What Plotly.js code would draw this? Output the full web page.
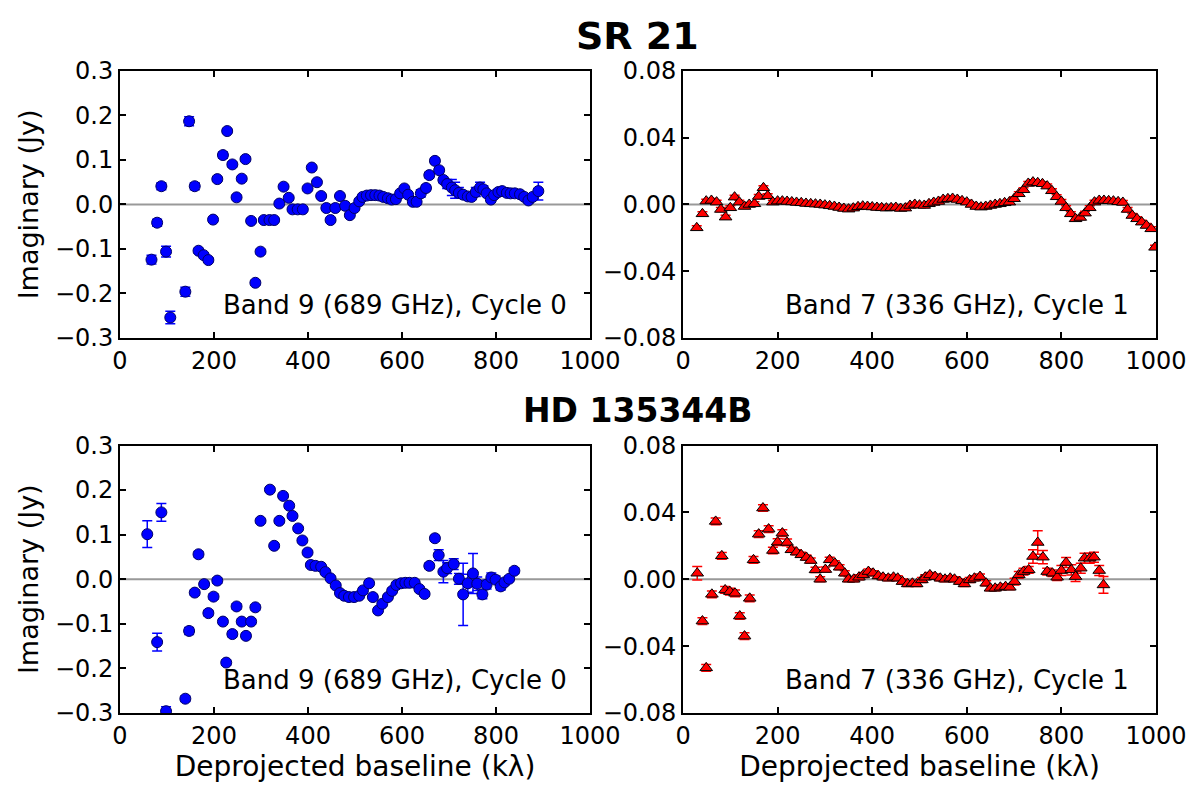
<!DOCTYPE html>
<html>
<head>
<meta charset="utf-8">
<script src="https://cdn.plot.ly/plotly-3.0.1.min.js"></script>
<style>
  html, body { margin: 0; padding: 0; background: #ffffff; }
  #chart { width: 1200px; height: 802px; }
</style>
</head>
<body>
<div id="chart"></div>
<script>
// SR 21, Band 9 (left top)
const sr21B9X = [67, 79, 88, 98, 107, 139, 147, 159, 167, 178, 188, 198, 207, 219, 228, 239, 248, 259, 267, 279,
  288, 299, 306, 318, 328, 339, 348, 359, 367, 378, 389, 399, 408, 419, 428, 439, 448, 458, 468, 479,
  489, 499, 509, 516, 525, 534, 543, 552, 560, 570, 578, 587, 596, 605, 613, 623, 631, 640, 651, 658,
  670, 679, 688, 696, 706, 713, 721, 730, 740, 748, 757, 766, 773, 780, 789, 796, 805, 813, 823, 831,
  840, 851, 860, 869, 878, 890];
const sr21B9Y = [-0.124, -0.041, 0.041, -0.106, -0.254, -0.196, 0.187, 0.041, -0.104, -0.114, -0.125, -0.034, 0.057, 0.111, 0.165, 0.090, 0.016, 0.058, 0.102, -0.037,
  -0.176, -0.106, -0.035, -0.035, -0.035, 0.002, 0.040, 0.015, -0.011, -0.011, -0.011, 0.036, 0.083, 0.050, 0.019, -0.008, -0.035, -0.008, 0.019, -0.003,
  -0.024, -0.008, 0.007, 0.017, 0.020, 0.021, 0.021, 0.020, 0.017, 0.014, 0.011, 0.012, 0.025, 0.036, 0.022, 0.006, 0.006, 0.025, 0.037, 0.066,
  0.098, 0.077, 0.055, 0.046, 0.038, 0.032, 0.026, 0.022, 0.018, 0.017, 0.028, 0.038, 0.034, 0.025, 0.011, 0.021, 0.028, 0.030, 0.026, 0.025,
  0.025, 0.023, 0.017, 0.009, 0.017, 0.030];
const sr21B9Err = [0.010, 0.008, 0.008, 0.012, 0.014, 0.010, 0.010, 0.008, 0.005, 0.005, 0.005, 0.005, 0.005, 0.007, 0.005, 0.005, 0.005, 0.005, 0.005, 0.005,
  0.005, 0.005, 0.005, 0.005, 0.005, 0.004, 0.004, 0.004, 0.004, 0.004, 0.004, 0.004, 0.004, 0.004, 0.004, 0.004, 0.004, 0.004, 0.004, 0.004,
  0.004, 0.004, 0.004, 0.004, 0.004, 0.004, 0.004, 0.004, 0.004, 0.004, 0.004, 0.004, 0.004, 0.004, 0.004, 0.006, 0.006, 0.008, 0.006, 0.006,
  0.006, 0.006, 0.006, 0.010, 0.018, 0.018, 0.012, 0.006, 0.006, 0.006, 0.010, 0.012, 0.008, 0.006, 0.006, 0.006, 0.006, 0.006, 0.006, 0.006,
  0.006, 0.006, 0.006, 0.006, 0.006, 0.020];

// SR 21, Band 7 (right top)
const sr21B7X = [29, 41, 49, 60, 71, 80, 90, 100, 109, 119, 130, 140, 151, 160, 170, 179, 190,
  200, 210, 220, 230, 240, 250, 260, 270, 280, 290, 300, 310, 320, 330, 340, 350, 360, 370, 380, 390,
  400, 410, 420, 430, 440, 450, 460, 470, 480, 490, 500, 510, 520, 530, 540, 550, 560, 570, 580, 590,
  600, 610, 620, 630, 640, 650, 660, 670, 680, 690, 700, 710, 720, 730, 740, 750, 760, 770, 780, 790,
  800, 810, 820, 830, 840, 850, 860, 870, 880, 890, 900, 910, 920, 930, 940, 950, 960, 970, 980, 990, 998];
const sr21B7Y = [-0.014, -0.0056, 0.002, 0.0024, 0.0014, -0.003, -0.0076, -0.002, 0.0044, 0.0014, -0.0012, 0, 0.0004, 0.0048, 0.010, 0.0052, 0.0014,
  0.002, 0.002, 0.0018, 0.0015, 0.0012, 0.001, 0.0006, 0.0004, 0.0002, 0, -0.0004, -0.0008, -0.0012, -0.0018, -0.0024, -0.0028, -0.0022, -0.0014, -0.001, -0.0012,
  -0.0015, -0.0018, -0.002, -0.0022, -0.002, -0.0018, -0.0024, -0.0022, -0.0006, 0, -0.0004, -0.0006, 0.0004, 0.0012, 0.0018, 0.003, 0.0034, 0.0036, 0.003, 0.0022,
  0.0014, 0, -0.0012, -0.0016, -0.0012, -0.0006, 0, 0.0004, 0.001, 0.0014, 0.0034, 0.0064, 0.0088, 0.0126, 0.0134, 0.013, 0.0124, 0.011, 0.0082, 0.0046,
  0.0018, -0.002, -0.0056, -0.0086, -0.0078, -0.0052, -0.002, 0.0014, 0.0024, 0.0024, 0.0022, 0.002, 0.0016, 0.0012, -0.003, -0.0066, -0.0086, -0.0106, -0.0126, -0.0146, -0.0257];
const sr21B7Err = 0.0012;

// HD 135344B, Band 9 (left bottom)
const hdB9X = [58, 79, 88, 98, 139, 147, 159, 167, 179, 188, 199, 207, 219, 226, 239, 248, 259, 268, 279, 288,
  299, 319, 328, 339, 347, 360, 367, 379, 388, 399, 406, 416, 428, 437, 448, 459, 468, 477, 487, 498,
  509, 517, 530, 538, 549, 558, 570, 579, 588, 598, 607, 616, 627, 637, 648, 658, 670, 678, 688, 696,
  710, 721, 730, 740, 751, 760, 771, 780, 790, 799, 810, 818, 828, 839];
const hdB9Y = [0.101, -0.141, 0.150, -0.296, -0.268, -0.116, -0.030, 0.056, -0.011, -0.076, -0.039, -0.003, -0.095, -0.187, -0.123, -0.061, -0.095, -0.127, -0.095, -0.063,
  0.131, 0.201, 0.075, 0.131, 0.187, 0.165, 0.142, 0.114, 0.087, 0.060, 0.032, 0.030, 0.028, 0.016, 0.002, -0.014, -0.031, -0.037, -0.040, -0.040,
  -0.037, -0.025, -0.009, -0.040, -0.070, -0.055, -0.040, -0.026, -0.013, -0.009, -0.008, -0.008, -0.008, -0.022, -0.033, 0.030, 0.092, 0.054, 0.017, 0.025,
  0.034, 0.001, -0.034, -0.009, 0.013, -0.010, -0.034, -0.012, 0.004, -0.001, -0.016, -0.007, 0.001, 0.019];
const hdB9Err = [0.030, 0.020, 0.020, 0.010, 0.006, 0.008, 0.006, 0.006, 0.006, 0.006, 0.006, 0.006, 0.006, 0.006, 0.006, 0.006, 0.006, 0.006, 0.006, 0.006,
  0.004, 0.004, 0.004, 0.004, 0.004, 0.004, 0.004, 0.004, 0.004, 0.004, 0.004, 0.004, 0.004, 0.004, 0.004, 0.004, 0.004, 0.004, 0.004, 0.004,
  0.005, 0.005, 0.005, 0.005, 0.005, 0.005, 0.005, 0.005, 0.005, 0.005, 0.005, 0.005, 0.005, 0.005, 0.005, 0.006, 0.006, 0.012, 0.025, 0.012,
  0.012, 0.012, 0.070, 0.020, 0.045, 0.015, 0.010, 0.010, 0.010, 0.008, 0.008, 0.006, 0.006, 0.006];

// HD 135344B, Band 7 (right bottom)
const hdB7X = [30, 41, 49, 61, 69, 82, 89, 99, 110, 120, 130, 141, 149, 160, 169, 181, 190, 200, 210, 220,
  229, 240, 250, 261, 270, 280, 290, 301, 310, 321, 331, 342, 350, 361, 372, 381, 392, 402, 413, 423,
  434, 445, 454, 464, 475, 485, 494, 505, 512, 522, 533, 544, 554, 565, 574, 585, 595, 606, 616, 628,
  641, 650, 660, 671, 682, 691, 701, 710, 720, 731, 740, 750, 761, 770, 781, 791, 800, 810, 821, 830,
  841, 849, 860, 869, 880, 889];
const hdB7Y = [0.0036, -0.025, -0.053, -0.009, 0.0346, 0.014, -0.0064, -0.0074, -0.0084, -0.022, -0.034, -0.0114, 0.0116, 0.027, 0.0426, 0.030, 0.0172, 0.0222, 0.0276, 0.022,
  0.0176, 0.0162, 0.0146, 0.013, 0.0112, 0.0056, 0, 0.0058, 0.0116, 0.0096, 0.0072, 0.0036, 0, 0, 0.0012, 0.0026, 0.0046, 0.0036, 0.002, 0.0012,
  0.0006, 0.0012, 0.0006, -0.0014, -0.0028, -0.0024, -0.0028, -0.0004, 0.0012, 0.0026, 0.0016, 0.0006, 0, 0.0006, 0, -0.0014, -0.0028, -0.0004, 0.0006, 0.0016,
  -0.0024, -0.0054, -0.0054, -0.0048, -0.0044, -0.0048, -0.0014, 0.0026, 0.0046, 0.0056, 0.0136, 0.022, 0.0132, 0.0046, 0.0036, 0.0012, 0.0052, 0.010, 0.0056, 0.0016,
  0.0066, 0.0126, 0.0126, 0.0132, 0.0052, -0.0034];
const hdB7Err = [0.004, 0.002, 0.002, 0.002, 0.002, 0.002, 0.002, 0.002, 0.002, 0.002, 0.002, 0.002, 0.002, 0.002, 0.002, 0.002, 0.002, 0.002, 0.002, 0.002,
  0.0015, 0.0015, 0.0015, 0.0015, 0.0015, 0.0015, 0.0015, 0.0015, 0.0015, 0.0015, 0.0015, 0.0015, 0.0015, 0.0015, 0.0015, 0.0015, 0.0015, 0.0015, 0.0015, 0.0015,
  0.0015, 0.0015, 0.0015, 0.0015, 0.0015, 0.0015, 0.0015, 0.0015, 0.0015, 0.0015, 0.0015, 0.0015, 0.0015, 0.0015, 0.0015, 0.0015, 0.0015, 0.0015, 0.0015, 0.0015,
  0.0015, 0.0015, 0.0015, 0.0015, 0.0015, 0.0015, 0.002, 0.002, 0.002, 0.002, 0.004, 0.007, 0.004, 0.002, 0.002, 0.002, 0.003, 0.003, 0.003, 0.003,
  0.003, 0.003, 0.003, 0.003, 0.003, 0.005];

const blue = '#0000ff';
const red = '#ff0000';
const font = 'DejaVu Sans, Verdana, sans-serif';

function circles(x, y, err, xa, ya) {
  return {
    x: x, y: y, xaxis: xa, yaxis: ya, type: 'scatter', mode: 'markers',
    marker: { symbol: 'circle', size: 11, color: blue, line: { color: '#000066', width: 1 } },
    error_y: { type: 'data', array: err, visible: true, color: blue, thickness: 1.5, width: 5 },
    showlegend: false, hoverinfo: 'x+y'
  };
}

function triangles(x, y, err, xa, ya) {
  const e = Array.isArray(err)
    ? { type: 'data', array: err, visible: true, color: red, thickness: 1.5, width: 5 }
    : { type: 'constant', value: err, visible: true, color: red, thickness: 1.5, width: 5 };
  return {
    x: x, y: y, xaxis: xa, yaxis: ya, type: 'scatter', mode: 'markers',
    marker: { symbol: 'triangle-up', size: 11, color: red, line: { color: '#000000', width: 1 } },
    error_y: e,
    showlegend: false, hoverinfo: 'x+y'
  };
}

const traces = [
  circles(sr21B9X, sr21B9Y, sr21B9Err, 'x', 'y'),
  triangles(sr21B7X, sr21B7Y, sr21B7Err, 'x2', 'y2'),
  circles(hdB9X, hdB9Y, hdB9Err, 'x3', 'y3'),
  triangles(hdB7X, hdB7Y, hdB7Err, 'x4', 'y4')
];

const axisBase = {
  showline: true, linecolor: '#000000', linewidth: 2, mirror: 'ticks',
  ticks: 'inside', ticklen: 6, tickwidth: 2, tickcolor: '#000000',
  showgrid: false, zeroline: false,
  tickfont: { family: font, size: 24, color: '#000000' }
};

function xAxis(domain, anchor, withTitle) {
  const a = Object.assign({}, axisBase, {
    domain: domain, anchor: anchor, range: [0, 1000], dtick: 200, tick0: 0
  });
  if (withTitle) {
    a.title = { text: 'Deprojected baseline (kλ)', font: { family: font, size: 28, color: '#000000' }, standoff: 6 };
  }
  return a;
}

function yAxis(domain, anchor, range, dtick, fmt, withTitle) {
  const a = Object.assign({}, axisBase, {
    domain: domain, anchor: anchor, range: range, dtick: dtick, tick0: 0, tickformat: fmt
  });
  if (withTitle) {
    a.title = { text: 'Imaginary (Jy)', font: { family: font, size: 27, color: '#000000' }, standoff: 8 };
  }
  return a;
}

const colL = [0.1, 0.4917];
const colR = [0.5692, 0.9633];
const rowT = [0.5786, 0.9115];
const rowB = [0.1110, 0.4445];

function zeroLine(xr, yr) {
  return { type: 'line', xref: xr + ' domain', yref: yr, x0: 0, x1: 1, y0: 0, y1: 0,
    line: { color: '#999999', width: 2 }, layer: 'below' };
}

function bandLabel(text, xr, yr, xpos) {
  return { text: text, xref: xr + ' domain', yref: yr + ' domain', x: xpos, y: 0.125,
    xanchor: 'right', yanchor: 'middle', showarrow: false,
    font: { family: font, size: 26, color: '#000000' } };
}

const layout = {
  width: 1200, height: 802,
  paper_bgcolor: '#ffffff', plot_bgcolor: '#ffffff',
  margin: { l: 0, r: 0, t: 0, b: 0 },
  showlegend: false,
  xaxis: xAxis(colL, 'y', false),
  yaxis: yAxis(rowT, 'x', [-0.3, 0.3], 0.1, '.1f', true),
  xaxis2: xAxis(colR, 'y2', false),
  yaxis2: yAxis(rowT, 'x2', [-0.08, 0.08], 0.04, '.2f', false),
  xaxis3: xAxis(colL, 'y3', true),
  yaxis3: yAxis(rowB, 'x3', [-0.3, 0.3], 0.1, '.1f', true),
  xaxis4: xAxis(colR, 'y4', true),
  yaxis4: yAxis(rowB, 'x4', [-0.08, 0.08], 0.04, '.2f', false),
  shapes: [zeroLine('x', 'y'), zeroLine('x2', 'y2'), zeroLine('x3', 'y3'), zeroLine('x4', 'y4')],
  annotations: [
    { text: '<b>SR 21</b>', xref: 'paper', yref: 'paper', x: 0.531, y: 0.955,
      xanchor: 'center', yanchor: 'middle', showarrow: false,
      font: { family: font, size: 38, color: '#000000' } },
    { text: '<b>HD 135344B</b>', xref: 'paper', yref: 'paper', x: 0.531, y: 0.488,
      xanchor: 'center', yanchor: 'middle', showarrow: false,
      font: { family: font, size: 33, color: '#000000' } },
    bandLabel('Band 9 (689 GHz), Cycle 0', 'x', 'y', 0.955),
    bandLabel('Band 7 (336 GHz), Cycle 1', 'x2', 'y2', 0.947),
    bandLabel('Band 9 (689 GHz), Cycle 0', 'x3', 'y3', 0.955),
    bandLabel('Band 7 (336 GHz), Cycle 1', 'x4', 'y4', 0.947)
  ]
};

Plotly.newPlot('chart', traces, layout, { displayModeBar: false, responsive: false });
</script>
</body>
</html>
